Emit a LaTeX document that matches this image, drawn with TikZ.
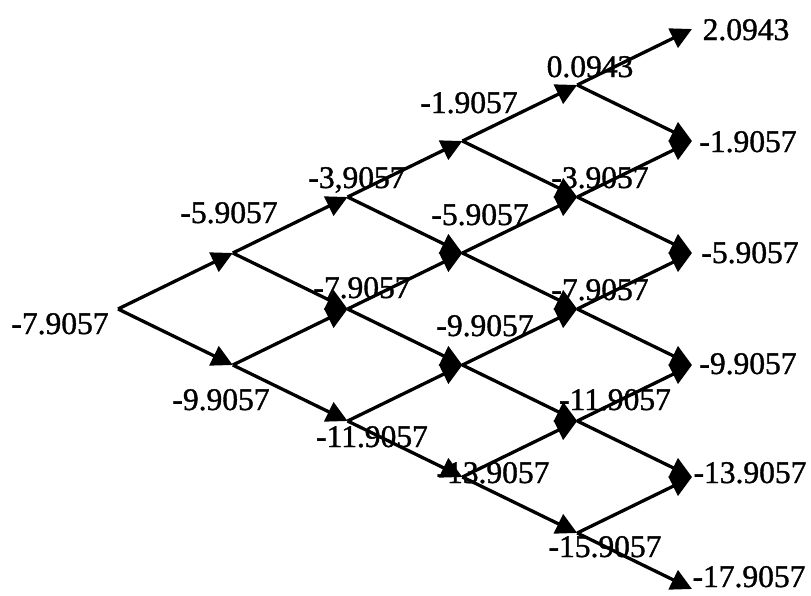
\documentclass[tikz,border=0pt]{standalone}
\usepackage{fontspec}
\setmainfont{Liberation Serif}[FakeBold=1.2]
\usetikzlibrary{arrows.meta}
\begin{document}
\begin{tikzpicture}[x=1pt,y=-1pt,
  arr/.style={line width=3.3pt,-{Triangle[length=21pt,width=21pt]}},
  val/.style={inner sep=0pt,anchor=base,font=\fontsize{31.5}{36}\selectfont}]
\useasboundingbox (0,0) rectangle (811,595);
% tree points
\foreach \i in {0,...,5}{
  \foreach \j in {0,...,\i}{
    \coordinate (n\i\j) at ({118+114.8*\i},{309-56*(\i-2*\j)});
  }
}
% edges
\foreach \i in {0,...,4}{
  \pgfmathtruncatemacro{\k}{\i+1}
  \foreach \j in {0,...,\i}{
    \pgfmathtruncatemacro{\m}{\j+1}
    \draw[arr] (n\i\j) -- (n\k\j);
    \draw[arr] (n\i\j) -- (n\k\m);
  }
}
% labels
\node[val] (l00) at (60,334) {-7.9057};
\node[val] (l10) at (229,223) {-5.9057};
\node[val] (l11) at (221,410) {-9.9057};
\node[val] (l20) at (357,188) {-3,9057};
\node[val] (l21) at (362,298) {-7.9057};
\node[val] (l22) at (372,447) {-11.9057};
\node[val] (l30) at (469,113) {-1.9057};
\node[val] (l31) at (480,225) {-5.9057};
\node[val] (l32) at (485,336) {-9.9057};
\node[val] (l33) at (493,483) {-13.9057};
\node[val] (l40) at (590,77) {0.0943};
\node[val] (l41) at (600,188) {-3.9057};
\node[val] (l42) at (600,300) {-7.9057};
\node[val] (l43) at (615,410) {-11.9057};
\node[val] (l44) at (605,557) {-15.9057};
\node[val] (l50) at (746,40) {2.0943};
\node[val] (l51) at (748,152) {-1.9057};
\node[val] (l52) at (750,263) {-5.9057};
\node[val] (l53) at (748,374) {-9.9057};
\node[val] (l54) at (750,483) {-13.9057};
\node[val] (l55) at (749,587) {-17.9057};
\end{tikzpicture}
\end{document}
